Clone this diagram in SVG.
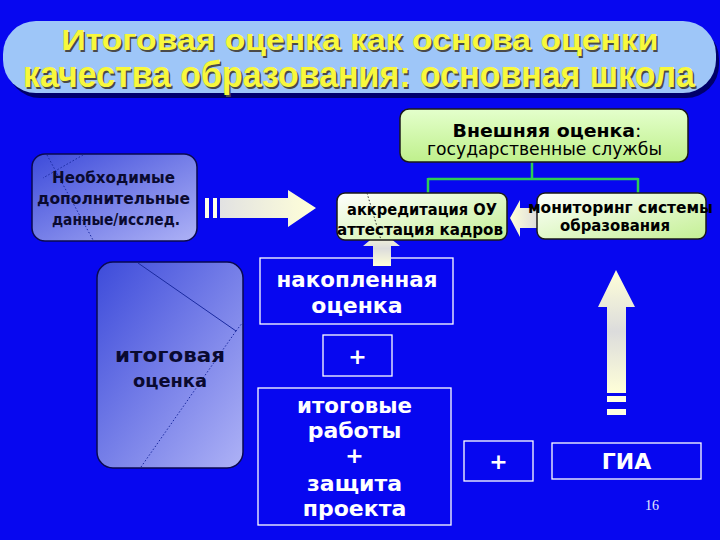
<svg xmlns="http://www.w3.org/2000/svg" width="720" height="540" viewBox="0 0 720 540">
<style>
.title{font-family:"Liberation Sans",Arial,sans-serif;font-weight:bold;text-anchor:middle}
.tsh{fill:#4a4a4a}
.tfg{fill:#F8F83C}
.dk{font-family:"DejaVu Sans",Verdana,sans-serif;font-weight:bold;fill:#0a0a30;text-anchor:middle}
.bk{font-family:"DejaVu Sans",Verdana,sans-serif;fill:#000;text-anchor:middle}
.wt{font-family:"DejaVu Sans",Verdana,sans-serif;font-weight:bold;fill:#fff;text-anchor:middle}
.wbox{fill:none;stroke:#fff;stroke-width:1.3}
.gbox{stroke:#1a1a1a;stroke-width:1.5}
.conn{fill:none;stroke:#2ECC55;stroke-width:2.5}
.dot{fill:none;stroke:#1a2aa0;stroke-width:1;stroke-dasharray:1.5 2}
</style>
<defs>
<linearGradient id="gBlue" x1="0" y1="0" x2="1" y2="1">
<stop offset="0" stop-color="#3D4BDA"/>
<stop offset="1" stop-color="#AEB2F6"/>
</linearGradient>
<linearGradient id="gGreen" x1="0" y1="0" x2="0" y2="1">
<stop offset="0" stop-color="#E4FFCC"/>
<stop offset="1" stop-color="#BFF08C"/>
</linearGradient>
<linearGradient id="gGreen2" x1="0" y1="0" x2="1" y2="1">
<stop offset="0" stop-color="#FFFFFF"/>
<stop offset="1" stop-color="#C4F094"/>
</linearGradient>
<linearGradient id="gArrH" x1="0" y1="0" x2="1" y2="0">
<stop offset="0" stop-color="#E2E2E2"/>
<stop offset="1" stop-color="#FFFFD8"/>
</linearGradient>
<linearGradient id="gArrV" x1="0" y1="1" x2="0" y2="0">
<stop offset="0" stop-color="#FFFFD8"/>
<stop offset="0.5" stop-color="#DCDCDC"/>
<stop offset="1" stop-color="#FFFFD8"/>
</linearGradient>
<linearGradient id="gArrL" x1="1" y1="0" x2="0" y2="0">
<stop offset="0" stop-color="#DCDCDC"/>
<stop offset="1" stop-color="#FFFFD8"/>
</linearGradient>
</defs>

<rect width="720" height="540" fill="#0707F0"/>

<g id="title">
<rect x="7" y="26" width="712" height="72" rx="33" fill="#00006A"/>
<rect x="3" y="21" width="713" height="72" rx="33" fill="#9EC6F8"/>
<text class="title tsh" x="361.5" y="51.5" font-size="30" textLength="597" lengthAdjust="spacingAndGlyphs">Итоговая оценка как основа оценки</text>
<text class="title tfg" x="360" y="50" font-size="30" textLength="597" lengthAdjust="spacingAndGlyphs">Итоговая оценка как основа оценки</text>
<text class="title tsh" x="360.5" y="88.5" font-size="36" textLength="672" lengthAdjust="spacingAndGlyphs">качества образования: основная школа</text>
<text class="title tfg" x="359" y="87" font-size="36" textLength="672" lengthAdjust="spacingAndGlyphs">качества образования: основная школа</text>
</g>

<g id="connectors">
<path class="conn" d="M532 162 V179 M428 179 H638 M428 178 V193 M638 178 V193"/>
<g id="arrow-right">
<rect x="205" y="198" width="4" height="20" fill="#FFFFE8"/>
<rect x="213" y="198" width="4" height="20" fill="#FFFFE8"/>
<polygon points="220,198 288,198 288,190 316,208 288,227 288,218 220,218" fill="url(#gArrH)"/>
</g>
<polygon id="arrow-left" points="510,218 520,200 520,208 538,208 538,228 520,228 520,237" fill="url(#gArrL)"/>
<g id="arrow-up-right">
<polygon points="616,270 635,307 626,307 626,393 607,393 607,307 598,307" fill="url(#gArrV)"/>
<rect x="607" y="396" width="19" height="6" fill="#FFFFE0"/>
<rect x="607" y="409" width="19" height="6" fill="#FFFFE0"/>
</g>
</g>

<g id="node-nakoplennaya">
<rect class="wbox" x="260" y="258" width="193" height="66"/>
<text class="wt" x="357" y="287" font-size="22" textLength="161" lengthAdjust="spacingAndGlyphs">накопленная</text>
<text class="wt" x="357" y="313" font-size="22">оценка</text>
</g>

<polygon id="arrow-up-left" points="381,231 400,246 391,246 391,266 373,266 373,246 363,246" fill="url(#gArrV)"/>

<g id="node-external">
<rect class="gbox" x="400" y="109" width="288" height="53" rx="9" fill="url(#gGreen)"/>
<text class="bk" x="547" y="137" font-size="17" textLength="189" lengthAdjust="spacingAndGlyphs"><tspan font-weight="bold">Внешняя оценка</tspan>:</text>
<text class="bk" x="544.5" y="155" font-size="17.5" textLength="235" lengthAdjust="spacingAndGlyphs">государственные службы</text>
</g>

<g id="node-accreditation">
<rect class="gbox" x="337" y="193" width="170" height="47" rx="8" fill="url(#gGreen2)"/>
<path class="dot" style="stroke:#333" d="M367 193 L381 240"/>
<text class="bk" x="422" y="215" font-size="16" font-weight="bold" textLength="150" lengthAdjust="spacingAndGlyphs">аккредитация ОУ</text>
<text class="bk" x="420" y="235" font-size="16" font-weight="bold" textLength="166" lengthAdjust="spacingAndGlyphs">аттестация кадров</text>
</g>

<g id="node-monitoring">
<rect class="gbox" x="537" y="193" width="169" height="46" rx="8" fill="url(#gGreen2)"/>
<text class="bk" x="620.5" y="213" font-size="16" font-weight="bold" textLength="185" lengthAdjust="spacingAndGlyphs">мониторинг системы</text>
<text class="bk" x="615" y="231" font-size="16" font-weight="bold" textLength="110" lengthAdjust="spacingAndGlyphs">образования</text>
</g>

<g id="node-additional">
<rect x="32" y="154" width="165" height="87" rx="13" fill="url(#gBlue)" stroke="#0a0a50" stroke-width="1.5"/>
<path class="dot" d="M47 155 L93 240 M83 155 L43 178"/>
<text class="dk" x="113.5" y="183" font-size="15.5" textLength="123" lengthAdjust="spacingAndGlyphs">Необходимые</text>
<text class="dk" x="113.5" y="204" font-size="15.5" textLength="153" lengthAdjust="spacingAndGlyphs">дополнительные</text>
<text class="dk" x="116" y="225" font-size="15.5" textLength="128" lengthAdjust="spacingAndGlyphs">данные/исслед.</text>
</g>

<g id="node-itogovaya">
<rect x="97" y="262" width="146" height="206" rx="16" fill="url(#gBlue)" stroke="#0a0a50" stroke-width="1.5"/>
<path d="M138 263 L236 331" stroke="#1a2aa0" stroke-width="1"/>
<path class="dot" d="M236 331 L141 467 M236 331 L243 322"/>
<text class="dk" x="170" y="362" font-size="20" textLength="110" lengthAdjust="spacingAndGlyphs">итоговая</text>
<text class="dk" x="170" y="387" font-size="17" textLength="74" lengthAdjust="spacingAndGlyphs">оценка</text>
</g>

<g id="node-plus1">
<rect class="wbox" x="323" y="335" width="69" height="41"/>
<text class="wt" x="357.5" y="364" font-size="22">+</text>
</g>

<g id="node-itogovye">
<rect class="wbox" x="258" y="388" width="193" height="137"/>
<text class="wt" x="354.5" y="413" font-size="22" textLength="115" lengthAdjust="spacingAndGlyphs">итоговые</text>
<text class="wt" x="354.5" y="438" font-size="22">работы</text>
<text class="wt" x="354.5" y="463" font-size="22">+</text>
<text class="wt" x="354.5" y="491" font-size="22">защита</text>
<text class="wt" x="354.5" y="516" font-size="22">проекта</text>
</g>

<g id="node-plus2">
<rect class="wbox" x="464" y="441" width="69" height="40"/>
<text class="wt" x="498.5" y="469" font-size="22">+</text>
</g>

<g id="node-gia">
<rect class="wbox" x="552" y="443" width="149" height="36"/>
<text class="wt" x="626.5" y="469" font-size="22">ГИА</text>
</g>

<text x="652" y="510" font-family="Liberation Serif, serif" font-size="14" fill="#E8E8FF" text-anchor="middle">16</text>
</svg>
